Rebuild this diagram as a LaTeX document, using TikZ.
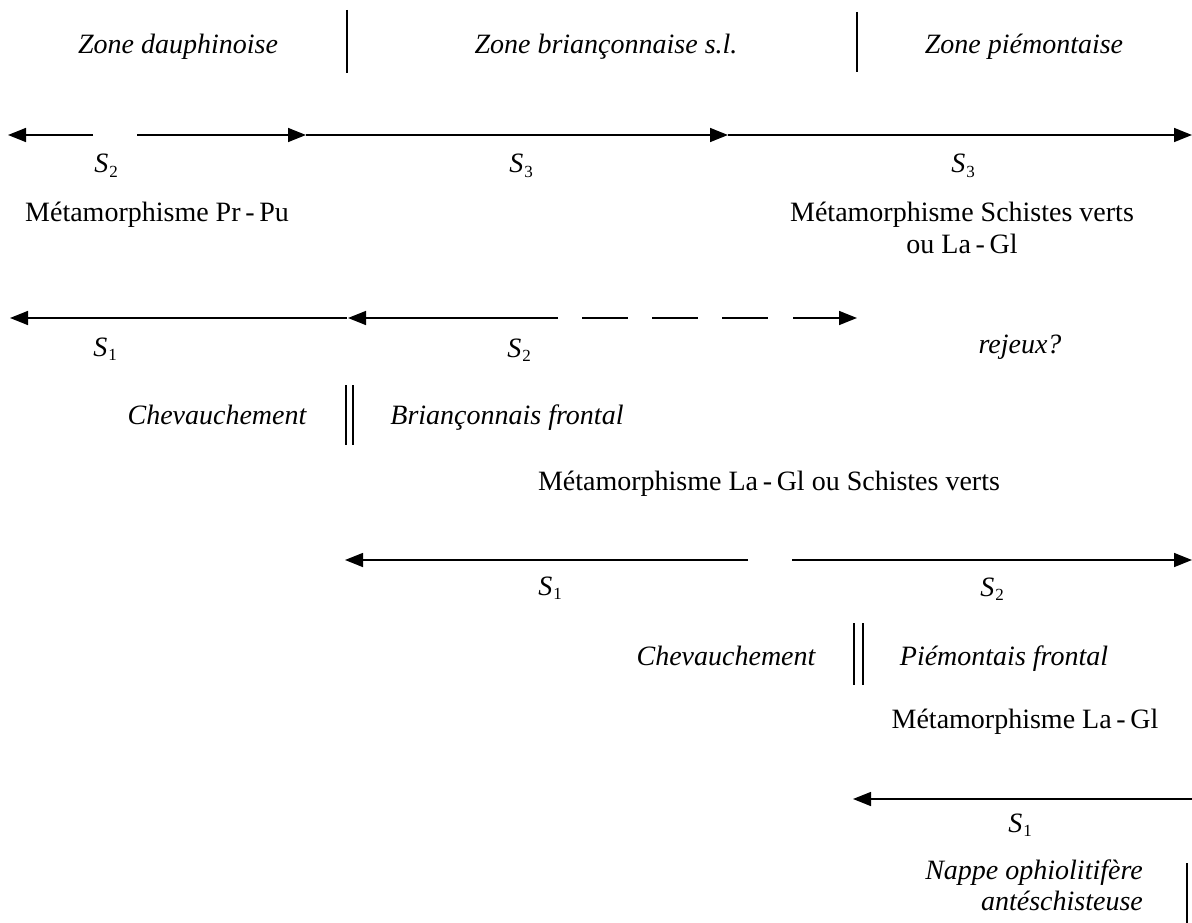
\documentclass[tikz,border=0pt]{standalone}
\usepackage{fontspec}
\setmainfont{Liberation Serif}
\usetikzlibrary{arrows.meta}
\newcommand{\Sidx}[1]{\textit{S}\kern1pt\raisebox{-0.32ex}{\fontsize{17}{17}\selectfont #1}}
\begin{document}
\begin{tikzpicture}[x=1pt,y=-1pt,
  lbl/.style={font=\fontsize{28}{30}\selectfont, inner sep=0pt, anchor=base},
  ilbl/.style={font=\fontsize{28}{30}\selectfont\itshape, inner sep=0pt, anchor=base},
  rule/.style={line width=1.5pt},
  tipline/.style={line width=1.5pt, -{Triangle[length=18pt,width=14pt]}},
]
\useasboundingbox (0,0) rectangle (1192,923);

% ---------- header ----------
\node[ilbl] (zd) at (178,54) {Zone dauphinoise};
\node[ilbl] (zb) at (606,54) {Zone briançonnaise s.l.};
\node[ilbl] (zp) at (1024,54) {Zone piémontaise};
\coordinate (v1a) at (347,10);  \coordinate (v1b) at (347,73);
\coordinate (v2a) at (857,12);  \coordinate (v2b) at (857,72);
\draw[rule] (v1a) -- (v1b);
\draw[rule] (v2a) -- (v2b);

% ---------- row 1 ----------
\coordinate (a1l) at (8,135);   \coordinate (a1m) at (93,135);
\coordinate (a1n) at (137,135); \coordinate (a1p) at (306,135);
\coordinate (a1q) at (728,135); \coordinate (a1r) at (1192,135);
\draw[tipline] (a1m) -- (a1l);
\draw[tipline] (a1n) -- (a1p);
\draw[tipline] (a1p) -- (a1q);
\draw[tipline] (a1q) -- (a1r);
\node[lbl] (s1a) at (106,173) {\Sidx{2}};
\node[lbl] (s1b) at (521,173) {\Sidx{3}};
\node[lbl] (s1c) at (963,173) {\Sidx{3}};
\node[lbl] (m1a) at (157,221) {Métamorphisme Pr\,-\,Pu};
\node[lbl] (m1b) at (962,221) {Métamorphisme Schistes verts};
\node[lbl] (m1c) at (962,253) {ou La\,-\,Gl};

% ---------- row 2 ----------
\coordinate (a2l) at (10,318);  \coordinate (a2m) at (347,318);
\coordinate (a2n) at (348,318); \coordinate (a2o) at (558,318);
\coordinate (d1a) at (582,318); \coordinate (d1b) at (628,318);
\coordinate (d2a) at (652,318); \coordinate (d2b) at (698,318);
\coordinate (d3a) at (722,318); \coordinate (d3b) at (768,318);
\coordinate (d4a) at (793,318); \coordinate (d4b) at (857,318);
\draw[tipline] (a2m) -- (a2l);
\draw[tipline] (a2o) -- (a2n);
\draw[rule] (d1a) -- (d1b);
\draw[rule] (d2a) -- (d2b);
\draw[rule] (d3a) -- (d3b);
\draw[tipline] (d4a) -- (d4b);
\node[lbl] (s2a) at (105,356) {\Sidx{1}};
\node[lbl] (s2b) at (519,357) {\Sidx{2}};
\node[ilbl] (rj) at (1020,353) {rejeux?};
\node[ilbl] (ch1) at (217,424) {Chevauchement};
\node[ilbl] (bf) at (507,424) {Briançonnais frontal};
\coordinate (dl1a) at (346,385); \coordinate (dl1b) at (346,445);
\coordinate (dl2a) at (353,385); \coordinate (dl2b) at (353,445);
\draw[rule] (dl1a) -- (dl1b);
\draw[rule] (dl2a) -- (dl2b);
\node[lbl] (m2) at (769,490) {Métamorphisme La\,-\,Gl ou Schistes verts};

% ---------- row 3 ----------
\coordinate (a3l) at (345,560);  \coordinate (a3m) at (748,560);
\coordinate (a3n) at (792,560);  \coordinate (a3r) at (1192,560);
\draw[tipline] (a3m) -- (a3l);
\draw[tipline] (a3n) -- (a3r);
\node[lbl] (s3a) at (550,595) {\Sidx{1}};
\node[lbl] (s3b) at (992,596) {\Sidx{2}};
\node[ilbl] (ch2) at (726,665) {Chevauchement};
\node[ilbl] (pf) at (1004,665) {Piémontais frontal};
\coordinate (dl3a) at (854,623); \coordinate (dl3b) at (854,685);
\coordinate (dl4a) at (863,623); \coordinate (dl4b) at (863,685);
\draw[rule] (dl3a) -- (dl3b);
\draw[rule] (dl4a) -- (dl4b);
\node[lbl] (m3) at (1025,728) {Métamorphisme La\,-\,Gl};

% ---------- row 4 ----------
\coordinate (a4l) at (853,799);  \coordinate (a4r) at (1192,799);
\draw[tipline] (a4r) -- (a4l);
\node[lbl] (s4) at (1020,832) {\Sidx{1}};
\node[ilbl, anchor=base east] (np1) at (1143,879) {Nappe ophiolitifère};
\node[ilbl, anchor=base east] (np2) at (1143,910) {antéschisteuse};
\coordinate (v3a) at (1187,863); \coordinate (v3b) at (1187,923);
\draw[rule] (v3a) -- (v3b);
\end{tikzpicture}
\end{document}
